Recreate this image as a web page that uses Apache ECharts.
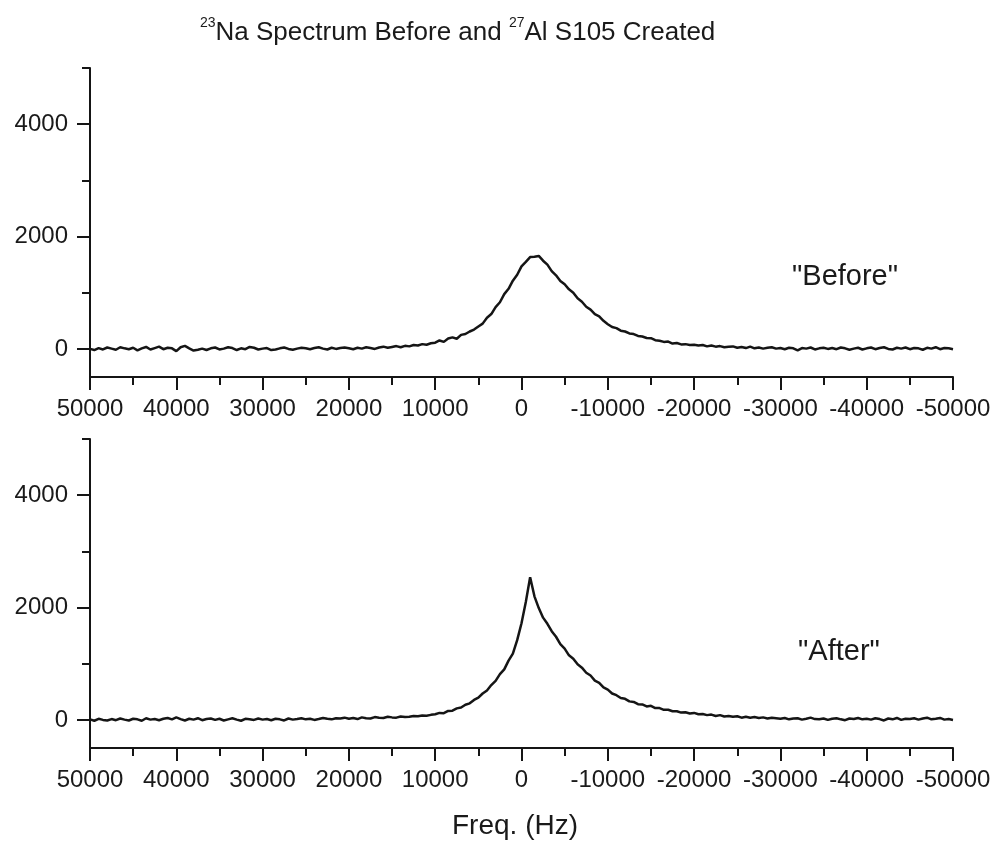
<!DOCTYPE html>
<html>
<head>
<meta charset="utf-8">
<script src="https://cdn.jsdelivr.net/npm/echarts@6/dist/echarts.min.js"></script>
<style>
html,body{margin:0;padding:0;background:#fff;}
#chart{width:994px;height:841px;}
</style>
</head>
<body>
<div id="chart"></div>
<script>
// Frequency axis (Hz), 500 Hz step from 50000 down to -50000
const freqStart = 50000;
const freqStep = -500;

// "Before" spectrum intensity
const beforeValues = [
  // 50000 .. 40500
  0, -20, 15, -10, 25, 5, -15, 30, 10, -5, 20, -25, 10, 35, -10, 15, 40, -5, 20, 10,
  // 40000 .. 30500
  -40, 30, 55, 10, -30, -15, 5, -20, 10, 25, -10, 5, 30, 15, -20, 10, -5, 35, 20, -10,
  // 30000 .. 20500
  5, 15, -20, -10, 10, 25, 0, -15, 5, 20, 10, -5, 15, 30, 5, -10, 20, 0, 15, 25,
  // 20000 .. 10500
  10, -5, 20, 5, 30, 15, 0, 25, 40, 20, 35, 50, 30, 55, 45, 70, 60, 85, 75, 100,
  // 10000 .. 5500
  110, 150, 125, 185, 205, 180, 250, 265, 310, 345,
  // 5000 .. 500
  400, 450, 555, 620, 745, 830, 975, 1070, 1215, 1320,
  // 0 .. -4500
  1470, 1550, 1635, 1640, 1655, 1570, 1500, 1385, 1310, 1210,
  // -5000 .. -9500
  1150, 1060, 1000, 900, 840, 750, 700, 620, 580, 500,
  // -10000 .. -14500
  440, 390, 370, 325, 310, 275, 265, 230, 220, 195,
  // -15000 .. -19500
  190, 155, 145, 125, 130, 95, 105, 80, 85, 70,
  // -20000 .. -29500
  75, 60, 70, 45, 60, 40, 50, 30, 40, 45, 20, 35, 15, 40, 10, 25, 5, 20, 30, 5,
  // -30000 .. -39500
  15, -5, 20, 10, -25, 15, 5, 25, -10, 10, 20, 0, 15, -5, 25, 10, -15, 5, 20, -10,
  // -40000 .. -50000
  10, 25, -5, 15, 30, 0, -10, 20, 5, 25, -5, 15, 10, -15, 20, 5, 30, -5, 15, 10, -5
];

// "After" spectrum intensity
const afterValues = [
  // 50000 .. 40500
  10, -15, 20, 0, -10, 15, -5, 25, 5, -10, 20, 10, -15, 30, 5, 15, -5, 20, 35, 10,
  // 40000 .. 30500
  45, 15, -10, 20, 5, 30, -5, 15, 25, 0, 20, -10, 10, 30, 5, -15, 20, 10, 0, 25,
  // 30000 .. 20500
  5, 15, -5, 20, 10, -10, 25, 5, 15, 30, 10, 20, 0, 15, 35, 20, 10, 30, 25, 40,
  // 20000 .. 10500
  20, 35, 15, 45, 30, 25, 50, 40, 35, 55, 45, 40, 60, 50, 55, 70, 65, 80, 75, 90,
  // 10000 .. 5500
  100, 125, 120, 160, 165, 205, 220, 270, 295, 355,
  // 5000 .. 500
  395, 470, 525, 620, 695, 815, 900, 1055, 1180, 1420,
  // 0 .. -4500
  1720, 2100, 2540, 2200, 1990, 1820, 1710, 1580, 1480, 1350,
  // -5000 .. -9500
  1270, 1150, 1090, 990, 930, 840, 790, 700, 660, 580,
  // -10000 .. -14500
  540, 470, 440, 390, 375, 330, 320, 280, 275, 240,
  // -15000 .. -19500
  250, 210, 210, 180, 180, 155, 155, 130, 135, 115,
  // -20000 .. -29500
  125, 100, 105, 85, 95, 70, 85, 60, 70, 55, 65, 40, 55, 40, 50, 35, 45, 25, 40, 30,
  // -30000 .. -39500
  20, 35, 10, 25, 30, 5, 20, 40, 15, 10, 25, 0, 20, 30, 10, -5, 25, 15, 35, 10,
  // -40000 .. -50000
  20, 5, 30, 15, -10, 25, 10, 35, 0, 20, 15, 30, 5, 25, 40, 10, 20, 35, 5, 15, 0
];

const yMajorTicks = [0, 2000, 4000];
const yMinorTicks = [1000, 3000, 5000];
const panelLabels = ['"Before"', '"After"'];

function toPairs(vals) {
  return vals.map((v, i) => [freqStart + freqStep * i, v]);
}

const FONT = '"Liberation Sans", Arial, sans-serif';
const INK = '#151515';
const plain = v => String(v);

function xAxisDef(gridIndex) {
  return {
    type: 'value', gridIndex: gridIndex,
    min: -50000, max: 50000, interval: 10000, inverse: true,
    axisLine: { show: true, onZero: false, lineStyle: { color: INK, width: 2 } },
    axisTick: { show: true, inside: false, length: 13, lineStyle: { color: INK, width: 2 } },
    minorTick: { show: true, splitNumber: 2, length: 8, lineStyle: { color: INK, width: 2 } },
    splitLine: { show: false },
    axisLabel: { show: true, color: '#1a1a1a', fontSize: 24, fontFamily: FONT, margin: 20,
      formatter: plain, showMinLabel: true, showMaxLabel: true }
  };
}
function yAxisMajor(gridIndex) {
  return {
    type: 'value', gridIndex: gridIndex, min: -500, max: 5000,
    axisLine: { show: true, onZero: false, lineStyle: { color: INK, width: 2 } },
    axisTick: { show: true, length: 13, customValues: yMajorTicks, lineStyle: { color: INK, width: 2 } },
    splitLine: { show: false },
    axisLabel: { show: true, customValues: yMajorTicks, formatter: plain, color: '#1a1a1a', fontSize: 24, fontFamily: FONT, margin: 22 }
  };
}
function yAxisMinor(gridIndex) {
  return {
    type: 'value', gridIndex: gridIndex, min: -500, max: 5000, position: 'left',
    axisLine: { show: false, onZero: false },
    axisTick: { show: true, length: 8, customValues: yMinorTicks, lineStyle: { color: INK, width: 2 } },
    splitLine: { show: false },
    axisLabel: { show: false }
  };
}

const chart = echarts.init(document.getElementById('chart'), null, { renderer: 'canvas' });
chart.setOption({
  backgroundColor: '#ffffff',
  animation: false,
  title: {
    text: '{sup|23}{main|Na Spectrum Before and }{sup|27}{main|Al S105 Created}',
    left: 195, top: 9,
    textStyle: {
      fontWeight: 'normal',
      rich: {
        main: { fontSize: 26, fontWeight: 'normal', fontFamily: FONT, color: '#1a1a1a', lineHeight: 32, verticalAlign: 'bottom' },
        sup: { fontSize: 14, fontWeight: 'normal', fontFamily: FONT, color: '#1a1a1a', lineHeight: 32, verticalAlign: 'top', padding: [2, 0, 0, 0] }
      }
    }
  },
  grid: [
    { left: 90, top: 68, right: 41, height: 309 },
    { left: 90, top: 439, right: 41, height: 309 }
  ],
  xAxis: [xAxisDef(0), xAxisDef(1)],
  yAxis: [yAxisMajor(0), yAxisMinor(0), yAxisMajor(1), yAxisMinor(1)],
  series: [
    { type: 'line', xAxisIndex: 0, yAxisIndex: 0, data: toPairs(beforeValues), showSymbol: false,
      symbol: 'none', lineStyle: { color: INK, width: 2.5 }, silent: true },
    { type: 'line', xAxisIndex: 1, yAxisIndex: 2, data: toPairs(afterValues), showSymbol: false,
      symbol: 'none', lineStyle: { color: INK, width: 2.5 }, silent: true }
  ],
  graphic: [
    { type: 'text', left: 792, top: 262, style: { text: panelLabels[0], fontSize: 29, fontFamily: FONT, fill: '#1a1a1a' } },
    { type: 'text', left: 798, top: 637, style: { text: panelLabels[1], fontSize: 29, fontFamily: FONT, fill: '#1a1a1a' } },
    { type: 'text', left: 452, top: 812, style: { text: 'Freq. (Hz)', fontSize: 28, fontFamily: FONT, fill: '#1a1a1a' } }
  ]
});
</script>
</body>
</html>
